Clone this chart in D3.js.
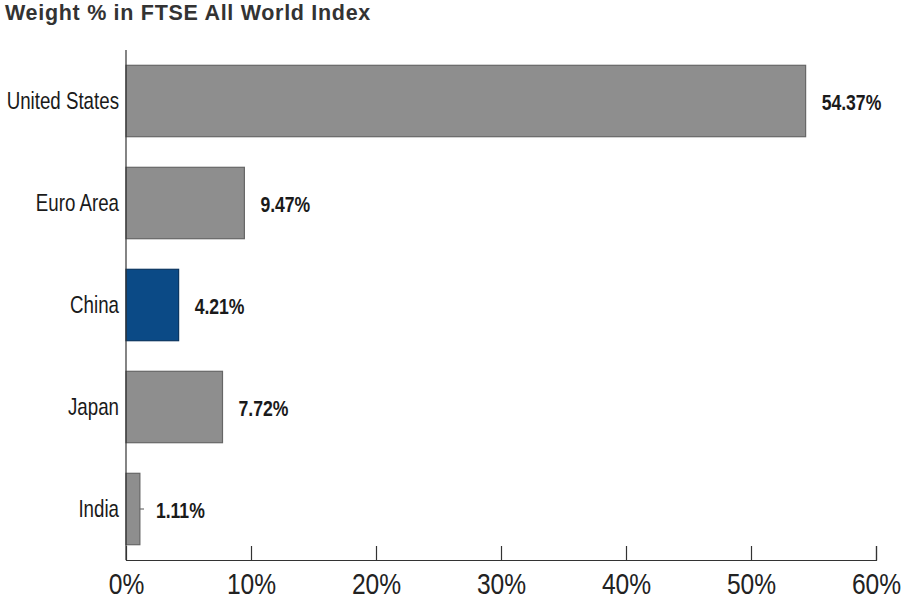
<!DOCTYPE html>
<html lang="en">
<head>
<meta charset="UTF-8">
<title>Weight % in FTSE All World Index</title>
<script src="https://d3js.org/d3.v7.min.js"></script>
<style>
  body { margin: 0; background: #fff; }
  text { font-family: "Liberation Sans", Arial, sans-serif; }
</style>
</head>
<body>
<svg id="chart" width="905" height="602"></svg>
<script>
// data
const countries = ["United States", "Euro Area", "China", "Japan", "India"];
const weights = [54.37, 9.47, 4.21, 7.72, 1.11];
const highlight = ["China"];
const xTicks = [0, 10, 20, 30, 40, 50, 60];

const margin = { top: 50, right: 29, bottom: 42, left: 126 };
const width = 905, height = 602;
const narrow = 0.8; // no condensed font installed, squeeze horizontally

const svg = d3.select("#chart");

const x = d3.scaleLinear().domain([0, 60]).range([margin.left, width - margin.right]);
const y = d3.scaleBand().domain(countries)
  .range([margin.top, height - margin.bottom])
  .paddingInner(0.3).paddingOuter(0.15);

const rows = countries.map((c, i) => ({ name: c, value: weights[i] }));

// title
svg.append("text")
  .attr("x", 5).attr("y", 20)
  .attr("font-weight", "bold")
  .attr("font-size", 21.5)
  .attr("letter-spacing", 0.7)
  .attr("fill", "#333")
  .text("Weight % in FTSE All World Index");

// y axis ticks (inward, mostly hidden by bars)
svg.selectAll(".ytick").data(rows).enter().append("line")
  .attr("x1", x(0)).attr("x2", x(0) + 18)
  .attr("y1", d => y(d.name) + y.bandwidth() / 2)
  .attr("y2", d => y(d.name) + y.bandwidth() / 2)
  .attr("stroke", "#555").attr("stroke-width", 1);

// bars
svg.selectAll(".bar").data(rows).enter().append("rect")
  .attr("class", "bar")
  .attr("x", x(0))
  .attr("y", d => y(d.name))
  .attr("width", d => x(d.value) - x(0))
  .attr("height", y.bandwidth())
  .attr("fill", d => highlight.includes(d.name) ? "#0b4a86" : "#8e8e8e")
  .attr("stroke", d => highlight.includes(d.name) ? "#0a3560" : "#666")
  .attr("stroke-width", 1.2);

// value labels
svg.selectAll(".val").data(rows).enter().append("g")
  .attr("transform", d => `translate(${x(d.value) + 16},${y(d.name) + y.bandwidth() / 2 + 9}) scale(${narrow},1)`)
  .append("text")
  .attr("font-size", 22)
  .attr("font-weight", "bold")
  .attr("fill", "#1a1a1a")
  .text(d => d.value.toFixed(2) + "%");

// category labels
svg.selectAll(".cat").data(rows).enter().append("g")
  .attr("transform", d => `translate(${x(0) - 7},${y(d.name) + y.bandwidth() / 2 + 8}) scale(${0.78},1)`)
  .append("text")
  .attr("text-anchor", "end")
  .attr("font-size", 24)
  .attr("fill", "#1a1a1a")
  .text(d => d.name);

// y axis line
svg.append("line")
  .attr("x1", x(0)).attr("x2", x(0))
  .attr("y1", margin.top).attr("y2", height - margin.bottom)
  .attr("stroke", "#333").attr("stroke-width", 1.2);

// x axis
const xAxis = d3.axisBottom(x)
  .tickValues(xTicks)
  .tickFormat(d => d + "%")
  .tickSize(-14);

const gx = svg.append("g")
  .attr("transform", `translate(0,${height - margin.bottom})`)
  .call(xAxis);
gx.select(".domain").attr("stroke", "#333").attr("stroke-width", 1.2);
gx.selectAll(".tick line").attr("stroke", "#333").attr("stroke-width", 1.2);
gx.selectAll(".tick").filter(d => d === 0).select("line").remove();
gx.selectAll(".tick text")
  .attr("y", 0).attr("dy", null)
  .attr("transform", `translate(0,34) scale(0.82,1)`)
  .attr("font-size", 30)
  .attr("fill", "#222");
</script>
</body>
</html>
